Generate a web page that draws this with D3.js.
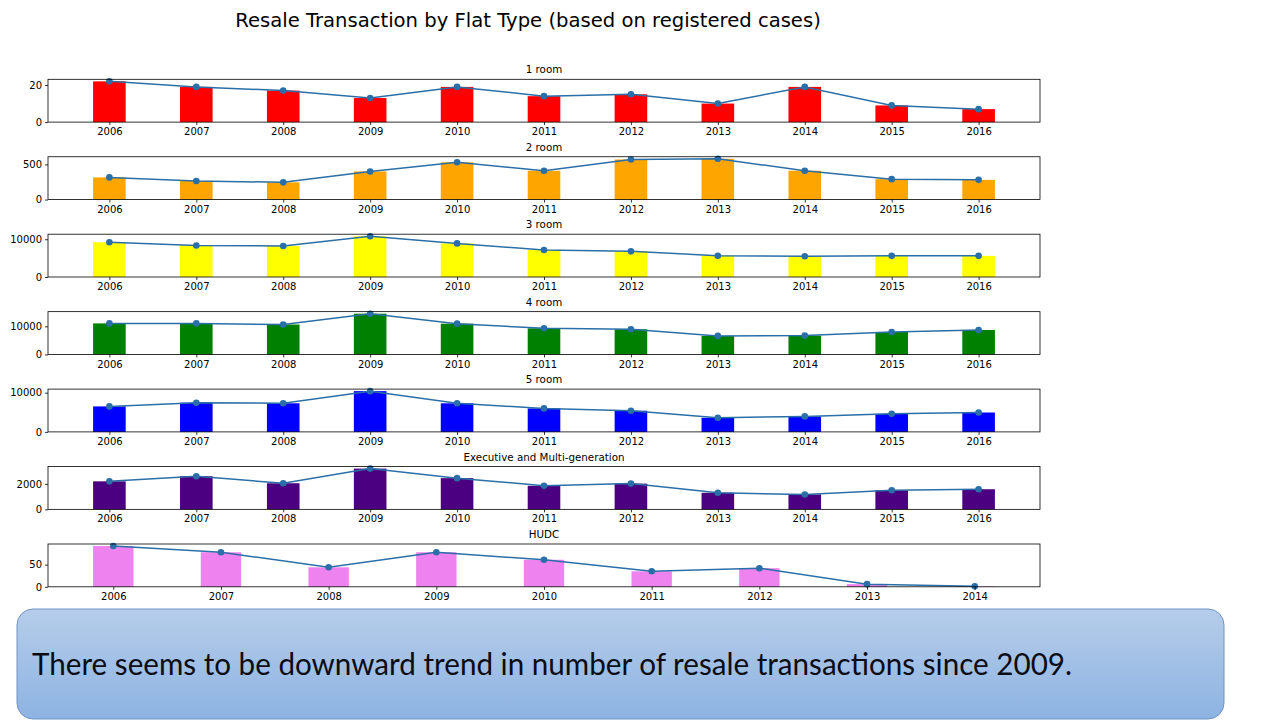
<!DOCTYPE html>
<html>
<head>
<meta charset="utf-8">
<script src="https://cdn.jsdelivr.net/npm/d3@7"></script>
<style>
  html, body { margin: 0; padding: 0; background: #fff; }
  svg { display: block; }
  text { font-family: "DejaVu Sans", sans-serif; }
</style>
</head>
<body>
<svg id="chart" width="1280" height="720"></svg>
<script>
// ---- data ----
const years = ["2006","2007","2008","2009","2010","2011","2012","2013","2014","2015","2016"];
const hudcYears = ["2006","2007","2008","2009","2010","2011","2012","2013","2014"];

const oneRoom   = [22, 19, 17, 13, 19, 14, 15, 10, 19, 9, 7];
const twoRoom   = [315, 265, 245, 400, 530, 410, 570, 580, 410, 290, 280];
const threeRoom = [9200, 8350, 8200, 10800, 8900, 7150, 6800, 5650, 5500, 5600, 5600];
const fourRoom  = [11050, 11050, 10650, 14500, 10950, 9300, 8950, 6600, 6700, 8000, 8700];
const fiveRoom  = [6500, 7450, 7300, 10400, 7300, 6000, 5400, 3600, 3950, 4600, 4950];
const execRoom  = [2200, 2600, 2050, 3200, 2450, 1850, 2020, 1300, 1170, 1500, 1580];
const hudc      = [92, 78, 44, 78, 61, 35, 42, 6, 1];

const panelTitles = ["1 room", "2 room", "3 room", "4 room", "5 room", "Executive and Multi-generation", "HUDC"];
const yTickValues = [[0, 20], [0, 500], [0, 10000], [0, 10000], [0, 10000], [0, 2000], [0, 50]];
const chartTitle = "Resale Transaction by Flat Type (based on registered cases)";
const noteText = "There seems to be downward trend in number of resale transactions since 2009.";

// ---- panels (built from the arrays) ----
const panels = [
  { title: panelTitles[0], cats: years, values: oneRoom,   color: "#ff0000", ticks: yTickValues[0] },
  { title: panelTitles[1], cats: years, values: twoRoom,   color: "#ffa500", ticks: yTickValues[1] },
  { title: panelTitles[2], cats: years, values: threeRoom, color: "#ffff00", ticks: yTickValues[2] },
  { title: panelTitles[3], cats: years, values: fourRoom,  color: "#008000", ticks: yTickValues[3] },
  { title: panelTitles[4], cats: years, values: fiveRoom,  color: "#0000ff", ticks: yTickValues[4] },
  { title: panelTitles[5], cats: years, values: execRoom,  color: "#4b0082", ticks: yTickValues[5] },
  { title: panelTitles[6], cats: hudcYears, values: hudc,  color: "#ee82ee", ticks: yTickValues[6] }
];

// ---- layout ----
const svg = d3.select("#chart");
const axLeft = 48, axRight = 1040;
const firstTop = 79.3, panelStep = 77.45, panelH = 42.8;
const barW = 0.375;
const lineColor = "#2a6fa8";

svg.append("text")
  .attr("x", 528).attr("y", 27)
  .attr("text-anchor", "middle")
  .attr("font-size", 19.6)
  .attr("fill", "#000")
  .text(chartTitle);

panels.forEach((p, i) => {
  const top = firstTop + i * panelStep;
  const bottom = top + panelH;
  const n = p.cats.length;
  const pad = barW / 2 + 0.05 * (n - 1 + barW);
  const x = d3.scalePoint().domain(p.cats).range([axLeft, axRight]).padding(pad);
  const step = x.step();
  const y = d3.scaleLinear().domain([0, d3.max(p.values) * 1.05]).range([bottom, top]);

  const g = svg.append("g");

  // bars
  g.selectAll("rect.bar").data(p.values).join("rect")
    .attr("class", "bar")
    .attr("x", (d, j) => x(p.cats[j]) - barW * step / 2)
    .attr("width", barW * step)
    .attr("y", d => y(d))
    .attr("height", d => bottom - y(d))
    .attr("fill", p.color);

  // line
  const line = d3.line().x((d, j) => x(p.cats[j])).y(d => y(d));
  g.append("path").datum(p.values)
    .attr("d", line)
    .attr("fill", "none")
    .attr("stroke", lineColor)
    .attr("stroke-width", 1.5);

  g.selectAll("circle").data(p.values).join("circle")
    .attr("cx", (d, j) => x(p.cats[j]))
    .attr("cy", d => y(d))
    .attr("r", 3.3)
    .attr("fill", lineColor);

  // frame
  g.append("rect")
    .attr("x", axLeft).attr("y", top)
    .attr("width", axRight - axLeft).attr("height", panelH)
    .attr("fill", "none").attr("stroke", "#000").attr("stroke-width", 0.8);

  // axes
  const xAxis = d3.axisBottom(x).tickSizeOuter(0).tickSize(3).tickPadding(3);
  const gx = g.append("g").attr("transform", `translate(0,${bottom})`).call(xAxis);
  gx.select(".domain").remove();
  gx.selectAll("text").attr("font-size", 10).attr("fill", "#000").style("font-family", "DejaVu Sans");
  gx.selectAll("line").attr("stroke", "#000").attr("stroke-width", 0.8);

  const yAxis = d3.axisLeft(y).tickValues(p.ticks).tickFormat(d3.format("d")).tickSizeOuter(0).tickSize(3).tickPadding(3);
  const gy = g.append("g").attr("transform", `translate(${axLeft},0)`).call(yAxis);
  gy.select(".domain").remove();
  gy.selectAll("text").attr("font-size", 10).attr("fill", "#000").style("font-family", "DejaVu Sans");
  gy.selectAll("line").attr("stroke", "#000").attr("stroke-width", 0.8);

  // title
  g.append("text")
    .attr("x", (axLeft + axRight) / 2).attr("y", top - 6)
    .attr("text-anchor", "middle")
    .attr("font-size", 10.3)
    .attr("fill", "#000")
    .text(p.title);
});

// ---- note box ----
const defs = svg.append("defs");
const grad = defs.append("linearGradient").attr("id", "boxGrad")
  .attr("x1", 0).attr("y1", 0).attr("x2", 0).attr("y2", 1);
grad.append("stop").attr("offset", "0%").attr("stop-color", "#b6cdea");
grad.append("stop").attr("offset", "100%").attr("stop-color", "#8db3e2");

svg.append("rect")
  .attr("x", 17).attr("y", 609)
  .attr("width", 1207).attr("height", 110)
  .attr("rx", 16).attr("ry", 16)
  .attr("fill", "url(#boxGrad)")
  .attr("stroke", "#6f93c6").attr("stroke-width", 1);

const note = svg.append("text")
  .attr("x", 32).attr("y", 675)
  .attr("font-size", 30)
  .attr("fill", "#0c0c14")
  .style("font-family", "Lato, 'Open Sans', sans-serif")
  .text(noteText);
const len = note.node().getComputedTextLength();
if (len > 0) {
  note.attr("textLength", 1040).attr("lengthAdjust", "spacingAndGlyphs");
}
</script>
</body>
</html>
